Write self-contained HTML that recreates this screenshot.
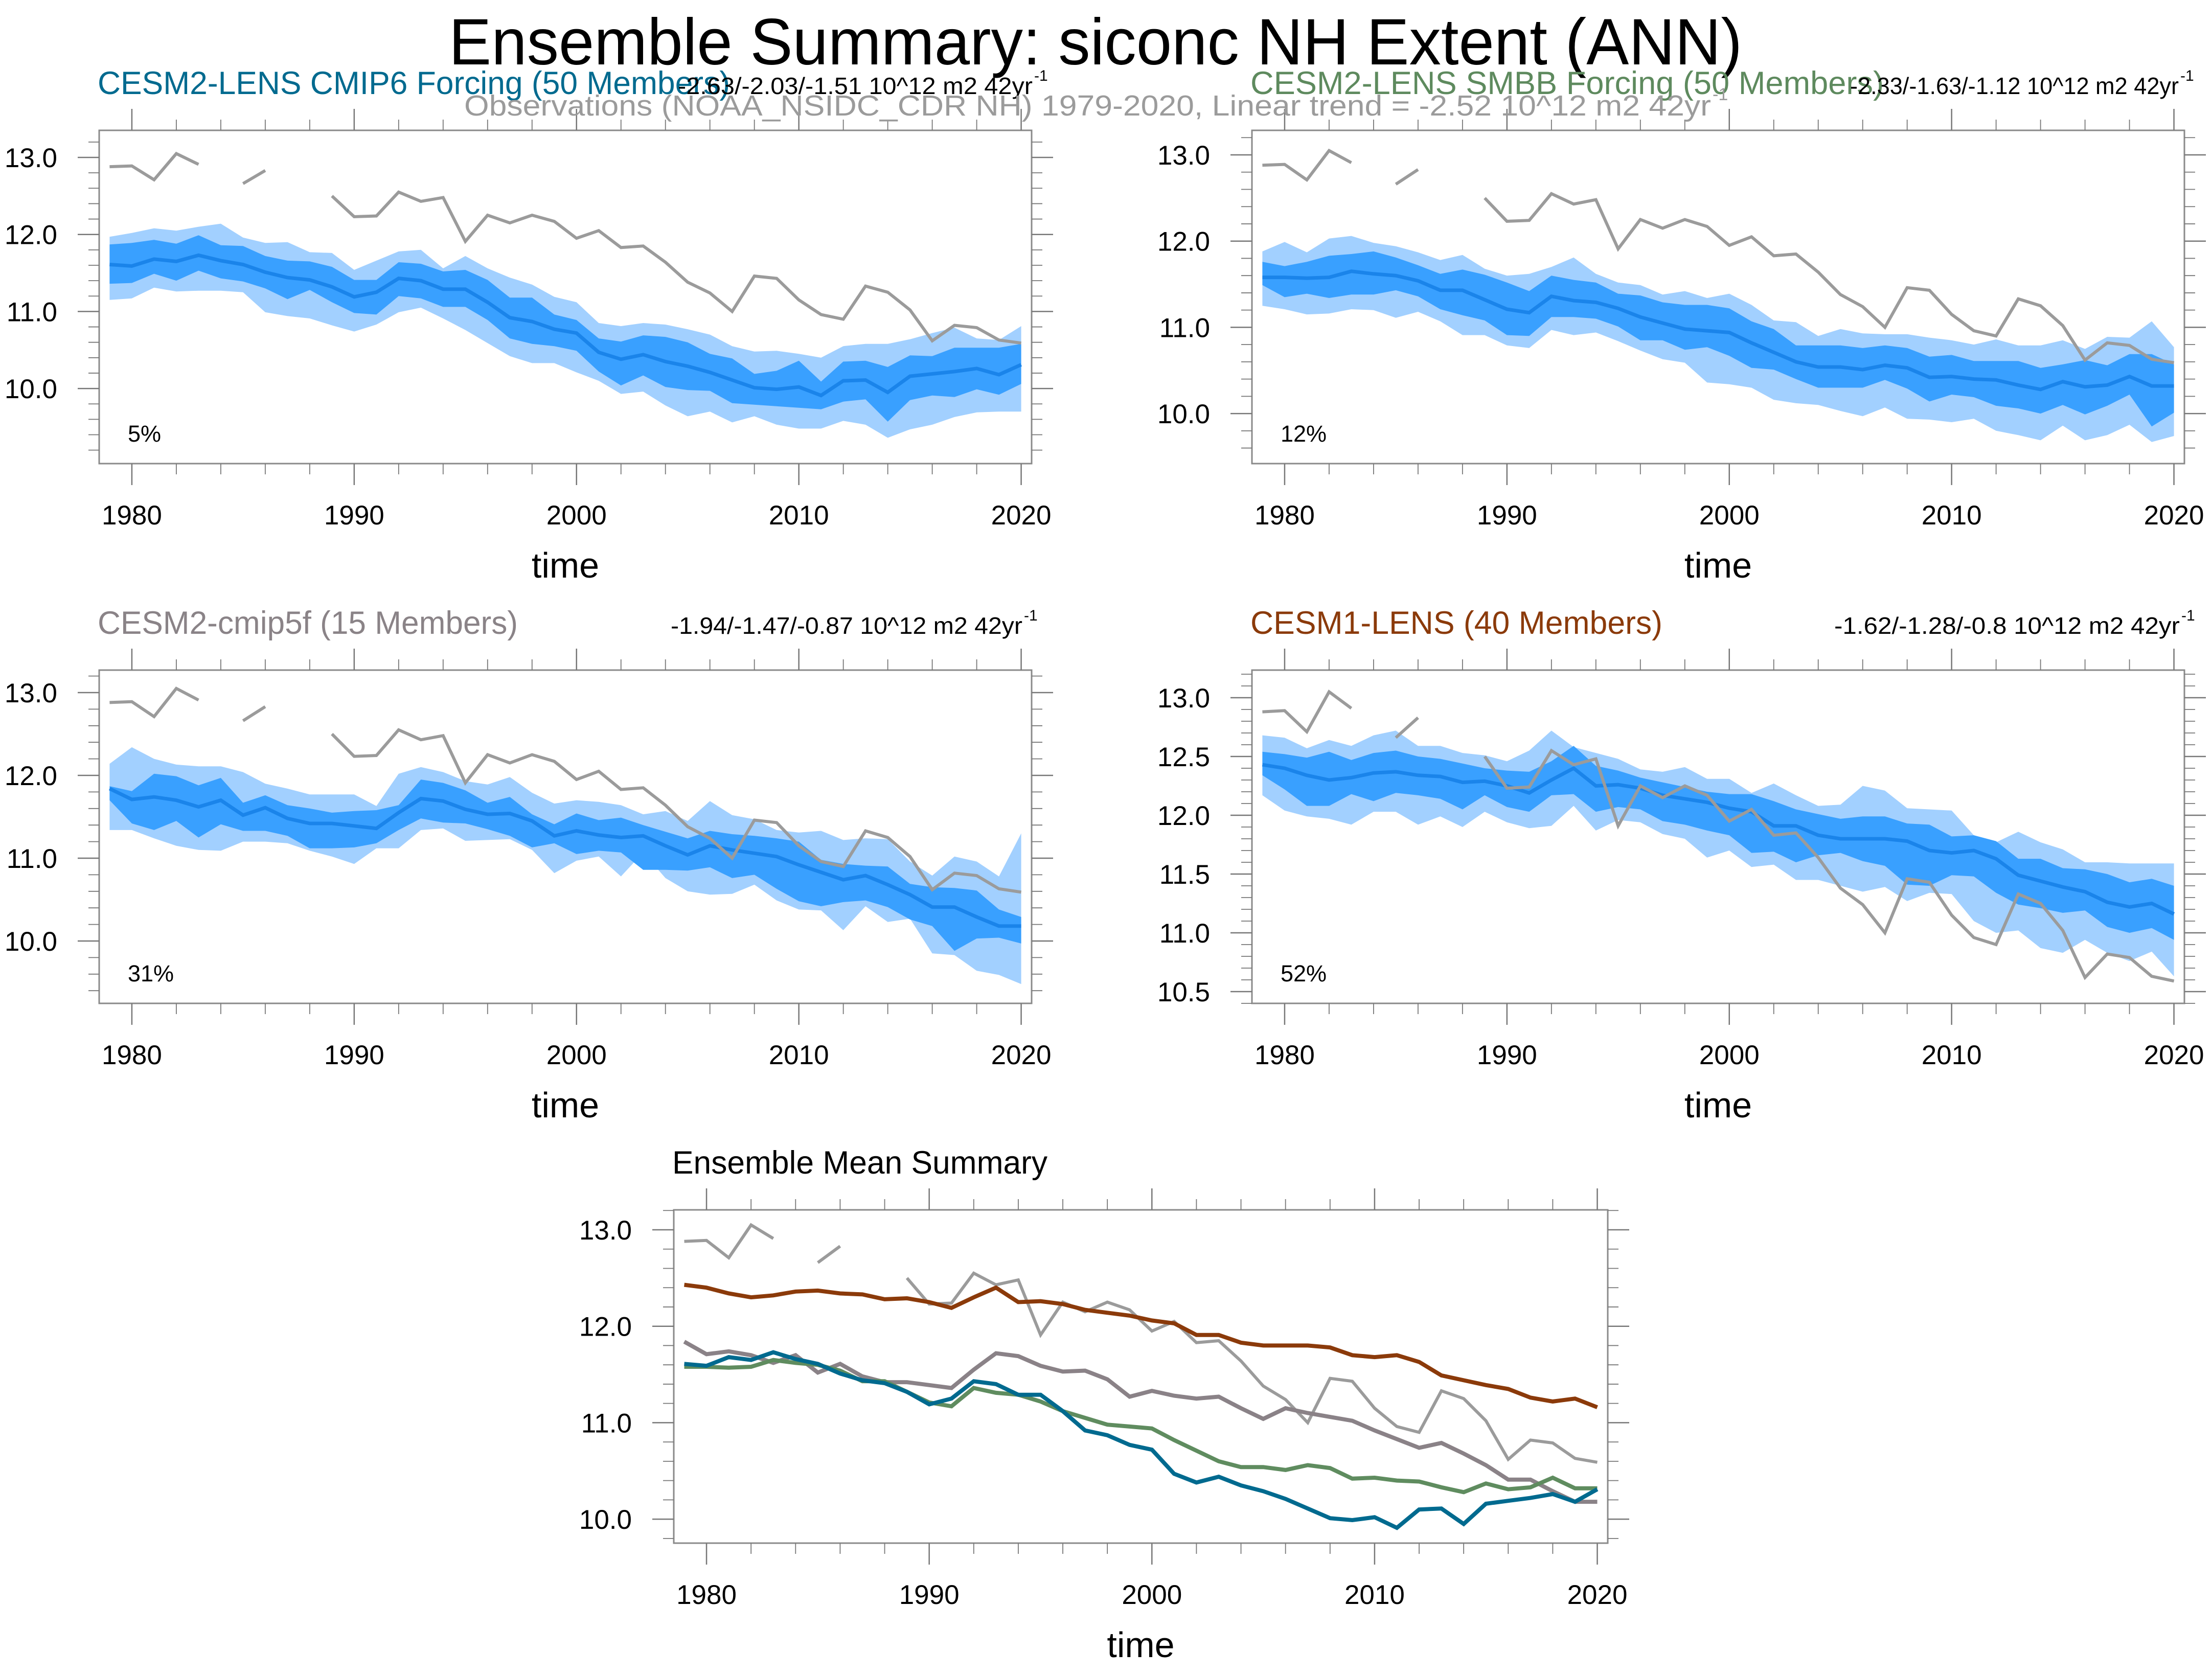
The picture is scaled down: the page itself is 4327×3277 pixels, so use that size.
<!DOCTYPE html>
<html><head><meta charset="utf-8"><style>
html,body{margin:0;padding:0;background:#fff}
svg{display:block;font-family:"Liberation Sans",sans-serif}
</style></head><body>
<svg id="fig" width="4327" height="3277" viewBox="0 0 4327 3277" xmlns="http://www.w3.org/2000/svg">
<rect width="4327" height="3277" fill="#fff"/>
<text x="878" y="126" font-size="128" textLength="2530" lengthAdjust="spacingAndGlyphs">Ensemble Summary: siconc NH Extent (ANN)</text>
<g id="plots"></g>
</svg>
<script>
const years=[];for(let y=1979;y<=2020;y++)years.push(y);
const obs=[12.88,12.89,12.71,13.05,12.91,null,12.66,12.83,null,null,12.50,12.23,12.24,12.55,12.43,12.48,11.91,12.25,12.15,12.25,12.17,11.95,12.05,11.83,11.85,11.64,11.38,11.24,11.00,11.46,11.43,11.15,10.96,10.90,11.33,11.25,11.02,10.62,10.82,10.79,10.63,10.59];
// Panel 1: CESM2-LENS CMIP6
const p1Mean=[11.61,11.59,11.68,11.65,11.73,11.66,11.61,11.51,11.44,11.41,11.32,11.19,11.25,11.43,11.40,11.29,11.29,11.12,10.92,10.87,10.77,10.72,10.47,10.38,10.44,10.35,10.29,10.21,10.11,10.01,9.99,10.02,9.91,10.10,10.11,9.95,10.16,10.19,10.22,10.26,10.18,10.31];
const p1Q75=[11.87,11.89,11.93,11.88,11.99,11.86,11.85,11.72,11.66,11.65,11.58,11.41,11.41,11.64,11.62,11.52,11.54,11.41,11.18,11.18,10.96,10.89,10.65,10.61,10.69,10.67,10.60,10.45,10.39,10.19,10.23,10.36,10.09,10.35,10.36,10.28,10.43,10.42,10.53,10.53,10.53,10.58];
const p1Q25=[11.36,11.37,11.49,11.40,11.53,11.43,11.39,11.30,11.16,11.28,11.12,10.98,10.96,11.20,11.17,11.06,11.06,10.89,10.65,10.58,10.55,10.49,10.22,10.04,10.17,10.02,9.98,9.97,9.81,9.79,9.77,9.75,9.73,9.83,9.86,9.57,9.85,9.91,9.89,9.99,9.92,10.06];
const p1Max=[11.97,12.02,12.08,12.05,12.10,12.14,11.96,11.89,11.90,11.77,11.76,11.54,11.66,11.78,11.80,11.56,11.72,11.56,11.44,11.35,11.19,11.12,10.85,10.81,10.85,10.83,10.77,10.70,10.55,10.48,10.49,10.45,10.40,10.55,10.58,10.58,10.64,10.72,10.79,10.65,10.63,10.81];
const p1Min=[11.15,11.17,11.31,11.26,11.27,11.27,11.25,10.99,10.94,10.91,10.82,10.74,10.83,10.99,11.05,10.91,10.76,10.59,10.42,10.33,10.33,10.21,10.10,9.93,9.96,9.78,9.64,9.70,9.56,9.64,9.53,9.48,9.48,9.58,9.53,9.36,9.47,9.53,9.63,9.69,9.70,9.70];
// Panel 2: CESM2-LENS SMBB
const p2Mean=[11.58,11.58,11.57,11.58,11.65,11.62,11.60,11.54,11.43,11.43,11.32,11.21,11.17,11.36,11.31,11.29,11.22,11.12,11.05,10.98,10.96,10.94,10.82,10.71,10.60,10.54,10.54,10.51,10.56,10.53,10.42,10.43,10.40,10.39,10.33,10.28,10.37,10.31,10.33,10.43,10.32,10.32];
const p2Q75=[11.76,11.71,11.76,11.83,11.85,11.88,11.81,11.72,11.62,11.67,11.61,11.52,11.42,11.60,11.55,11.52,11.39,11.37,11.29,11.26,11.26,11.22,11.07,10.98,10.79,10.79,10.79,10.76,10.79,10.76,10.66,10.68,10.61,10.61,10.61,10.53,10.57,10.62,10.56,10.69,10.69,10.57];
const p2Q25=[11.49,11.35,11.39,11.34,11.38,11.38,11.43,11.36,11.21,11.14,11.08,10.91,10.90,11.12,11.12,11.10,11.01,10.85,10.85,10.74,10.77,10.67,10.53,10.51,10.40,10.30,10.30,10.30,10.39,10.29,10.14,10.22,10.19,10.09,10.06,10.00,10.10,9.99,10.09,10.22,9.85,10.01];
const p2Max=[11.88,11.99,11.87,12.03,12.06,11.98,11.94,11.87,11.78,11.84,11.68,11.60,11.62,11.70,11.81,11.62,11.52,11.49,11.38,11.42,11.34,11.39,11.26,11.08,11.06,10.90,10.98,10.93,10.92,10.92,10.88,10.85,10.80,10.86,10.79,10.79,10.85,10.75,10.89,10.88,11.07,10.77];
const p2Min=[11.25,11.21,11.15,11.16,11.21,11.20,11.11,11.18,11.07,10.91,10.91,10.79,10.76,10.97,10.91,10.94,10.84,10.73,10.63,10.59,10.36,10.34,10.30,10.16,10.12,10.10,10.03,9.97,10.07,9.94,9.93,9.90,9.94,9.80,9.75,9.69,9.86,9.69,9.75,9.87,9.67,9.74];
// Panel 3: CESM2-cmip5f
const p3Mean=[11.84,11.71,11.74,11.70,11.62,11.70,11.52,11.61,11.48,11.42,11.42,11.39,11.36,11.55,11.72,11.69,11.59,11.53,11.54,11.45,11.27,11.33,11.28,11.25,11.27,11.15,11.04,11.15,11.10,11.06,11.02,10.92,10.83,10.74,10.79,10.68,10.56,10.41,10.41,10.29,10.18,10.18];
const p3Q75=[11.87,11.81,12.02,11.99,11.88,11.97,11.67,11.76,11.64,11.60,11.55,11.57,11.58,11.64,11.95,11.91,11.82,11.67,11.74,11.53,11.41,11.54,11.46,11.49,11.40,11.32,11.24,11.33,11.29,11.27,11.24,11.20,10.98,10.93,10.91,10.90,10.69,10.65,10.64,10.61,10.38,10.29];
const p3Q25=[11.70,11.42,11.34,11.45,11.25,11.41,11.33,11.33,11.27,11.12,11.12,11.13,11.18,11.34,11.48,11.43,11.42,11.35,11.27,11.13,11.18,11.05,11.09,11.07,10.86,10.86,10.85,10.89,10.76,10.80,10.63,10.48,10.42,10.47,10.49,10.41,10.26,10.18,9.88,10.03,10.04,9.97];
const p3Max=[12.14,12.34,12.20,12.13,12.11,12.11,12.04,11.90,11.84,11.77,11.77,11.77,11.63,12.02,12.10,12.04,11.93,11.89,11.98,11.79,11.66,11.70,11.68,11.64,11.53,11.57,11.45,11.69,11.52,11.47,11.34,11.31,11.33,11.22,11.24,11.23,10.96,10.79,11.02,10.96,10.78,11.30];
const p3Min=[11.34,11.34,11.24,11.15,11.10,11.09,11.20,11.20,11.18,11.09,11.02,10.93,11.12,11.12,11.34,11.36,11.21,11.22,11.23,11.10,10.82,10.97,11.02,10.78,11.07,10.76,10.60,10.56,10.57,10.68,10.49,10.38,10.37,10.13,10.42,10.23,10.27,9.85,9.83,9.64,9.59,9.48];
// Panel 4: CESM1-LENS
const p4Mean=[12.43,12.40,12.34,12.30,12.32,12.36,12.37,12.34,12.33,12.28,12.29,12.25,12.19,12.30,12.40,12.25,12.26,12.23,12.17,12.14,12.11,12.06,12.03,11.91,11.91,11.83,11.80,11.80,11.80,11.78,11.70,11.68,11.70,11.63,11.49,11.44,11.39,11.35,11.26,11.22,11.25,11.16];
const p4Q75=[12.54,12.52,12.49,12.54,12.47,12.53,12.55,12.50,12.48,12.44,12.40,12.38,12.37,12.46,12.59,12.42,12.38,12.32,12.28,12.24,12.20,12.18,12.18,12.12,12.05,12.01,11.97,11.99,11.99,11.93,11.92,11.82,11.83,11.78,11.63,11.63,11.55,11.54,11.50,11.43,11.46,11.40];
const p4Q25=[12.34,12.22,12.08,12.08,12.18,12.12,12.19,12.17,12.14,12.05,12.17,12.07,12.03,12.17,12.18,12.03,12.07,12.05,11.95,11.92,11.87,11.83,11.68,11.69,11.60,11.66,11.68,11.61,11.57,11.41,11.40,11.49,11.48,11.34,11.24,11.21,11.17,11.19,11.05,11.00,11.04,10.94];
const p4Max=[12.68,12.66,12.57,12.64,12.59,12.68,12.72,12.59,12.59,12.53,12.51,12.46,12.55,12.72,12.58,12.53,12.48,12.39,12.37,12.41,12.31,12.31,12.19,12.27,12.17,12.08,12.09,12.25,12.21,12.06,12.05,12.04,11.83,11.77,11.86,11.77,11.71,11.60,11.60,11.59,11.59,11.59];
const p4Min=[12.17,12.04,11.99,11.97,11.92,12.03,12.03,11.92,11.99,11.90,12.03,11.94,11.89,11.91,12.08,11.87,11.96,11.94,11.84,11.80,11.64,11.70,11.56,11.58,11.45,11.45,11.40,11.35,11.39,11.27,11.34,11.33,11.10,11.00,11.02,10.87,10.83,10.94,10.83,10.76,10.84,10.63];
const yLabels123=["13.0","12.0","11.0","10.0"];
const yTicks123=[13,12,11,10];
const yLabels4=["13.0","12.5","12.0","11.5","11.0","10.5"];
const yTicks4=[13,12.5,12,11.5,11,10.5];
const xTicks=[1980,1990,2000,2010,2020];
const xLabels=["1980","1990","2000","2010","2020"];

const NS="http://www.w3.org/2000/svg";
const root=document.getElementById('plots');
function el(tag,attrs,parent){const e=document.createElementNS(NS,tag);for(const k in attrs)e.setAttribute(k,attrs[k]);(parent||root).appendChild(e);return e;}

function panel(cfg){
  const g=el('g',{});
  
  
  const X0=cfg.x0,X1=cfg.x1,Y0=cfg.y0,Y1=cfg.y1;
  const xs=v=>X0+(v-1978.53)/(2020.47-1978.53)*(X1-X0);
  const ys=v=>cfg.yRef+(cfg.vRef-v)*cfg.ppu;
  const vTop=cfg.vRef+(cfg.yRef-Y0)/cfg.ppu, vBot=cfg.vRef-(Y1-cfg.yRef)/cfg.ppu;
  const band=(hi,lo,fill,nm)=>{
    let d='M'+years.map((y,i)=>xs(y).toFixed(1)+','+ys(hi[i]).toFixed(1)).join('L');
    for(let i=years.length-1;i>=0;i--)d+='L'+xs(years[i]).toFixed(1)+','+ys(lo[i]).toFixed(1);
    const p=el('path',{d:d+'Z',fill:fill},g);
    
    
  };
  const line=(vals,col,w,nm)=>{
    let d='',pen=false;
    vals.forEach((v,i)=>{if(v==null){pen=false;return;}d+=(pen?'L':'M')+xs(years[i]).toFixed(1)+','+ys(v).toFixed(1);pen=true;});
    const p=el('path',{d:d,fill:'none',stroke:col,'stroke-width':w,'stroke-linejoin':'miter'},g);
    
    
  };
  const clipId='c'+cfg.name;
  const cp=el('clipPath',{id:clipId},g);el('rect',{x:X0,y:Y0,width:X1-X0,height:Y1-Y0},cp);
  const inner=el('g',{'clip-path':'url(#'+clipId+')'},g);
  const gg=g; 
  if(cfg.bands){
    band(cfg.max,cfg.min,'#a2d0ff','band-outer');
    band(cfg.q75,cfg.q25,'#39a0ff','band-inner');
    line(cfg.mean,'#1a84ea',7,'ensemble-mean-line');
    line(obs,'#9b9b9b',6,'observations-line');
  } else {
    cfg.lines.forEach(L=>line(L.v,L.c,L.w,L.n));
  }
  // frame
  const fr=el('rect',{x:X0,y:Y0,width:X1-X0,height:Y1-Y0,fill:'none',stroke:'#8a8a8a','stroke-width':3},g);
  
  
  // x ticks
  for(let y=1980;y<=2020;y+=2){
    const big=(y%10===0), L=big?42:21, x=xs(y);
    el('line',{x1:x,x2:x,y1:Y0,y2:Y0-L,stroke:'#777','stroke-width':big?2.5:1.8},g);
    el('line',{x1:x,x2:x,y1:Y1,y2:Y1+L,stroke:'#777','stroke-width':big?2.5:1.8},g);
  }
  xTicks.forEach((t,i)=>{
    const tx=el('text',{x:xs(t),y:Y1+119,'font-size':53,'text-anchor':'middle'},g);
    tx.textContent=xLabels[i];
    
    
  });
  const xt=el('text',{x:(X0+X1)/2,y:Y1+223,'font-size':70,'text-anchor':'middle'},g);
  xt.textContent='time';
  
  
  // y ticks
  const st=cfg.minor;
  for(let v=Math.ceil(vBot/st-1e-6)*st;v<=vTop+1e-6;v+=st){
    const vv=Math.round(v*100)/100;
    const big=cfg.yTicks.some(t=>Math.abs(t-vv)<1e-6), L=big?42:21, y=ys(vv);
    el('line',{x1:X0,x2:X0-L,y1:y,y2:y,stroke:'#777','stroke-width':big?2.5:1.8},g);
    el('line',{x1:X1,x2:X1+L,y1:y,y2:y,stroke:'#777','stroke-width':big?2.5:1.8},g);
  }
  cfg.yTicks.forEach((t,i)=>{
    const tx=el('text',{x:X0-82,y:ys(t)+19,'font-size':53,'text-anchor':'end'},g);
    tx.textContent=cfg.yLabels[i];
    
    
  });
  if(cfg.pct){
    const tx=el('text',{x:X0+56,y:Y1-43,'font-size':45},g);
    tx.textContent=cfg.pct;
    
    
  }
  const ti=el('text',{x:X0-3,y:Y0-71,'font-size':63,fill:cfg.tcol,textLength:cfg.tlen,lengthAdjust:'spacingAndGlyphs'},g);
  ti.textContent=cfg.title;
  
  
  if(cfg.trend){
    const tr=el('text',{x:cfg.tx,y:Y0-71,'font-size':46,textLength:cfg.tw,lengthAdjust:'spacingAndGlyphs'},g);
    tr.textContent=cfg.trend;
    
    
    const sp=el('text',{x:cfg.tx+cfg.tw+3,y:Y0-97,'font-size':30},g);
    sp.textContent='-1';
    
    
  }
}

panel({name:'panel-cesm2-cmip6',x0:194,x1:2018,y0:255,y1:907,yRef:308,vRef:13,ppu:150.7,minor:0.2,yTicks:yTicks123,yLabels:yLabels123,
  bands:true,mean:p1Mean,q75:p1Q75,q25:p1Q25,max:p1Max,min:p1Min,pct:'5%',
  title:'CESM2-LENS CMIP6 Forcing (50 Members)',tcol:'#006a8f',tlen:1237,trend:'-2.63/-2.03/-1.51 10^12 m2 42yr',tx:1326,tw:694});
panel({name:'panel-cesm2-smbb',x0:2449,x1:4273,y0:255,y1:907,yRef:303,vRef:13,ppu:168.7,minor:0.2,yTicks:yTicks123,yLabels:yLabels123,
  bands:true,mean:p2Mean,q75:p2Q75,q25:p2Q25,max:p2Max,min:p2Min,pct:'12%',
  title:'CESM2-LENS SMBB Forcing (50 Members)',tcol:'#5e8a5e',tlen:1239,trend:'-2.33/-1.63/-1.12 10^12 m2 42yr',tx:3619,tw:643});
panel({name:'panel-cesm2-cmip5f',x0:194,x1:2018,y0:1311,y1:1963,yRef:1355,vRef:13,ppu:162,minor:0.2,yTicks:yTicks123,yLabels:yLabels123,
  bands:true,mean:p3Mean,q75:p3Q75,q25:p3Q25,max:p3Max,min:p3Min,pct:'31%',
  title:'CESM2-cmip5f (15 Members)',tcol:'#8a8387',tlen:822,trend:'-1.94/-1.47/-0.87 10^12 m2 42yr',tx:1312,tw:688});
panel({name:'panel-cesm1-lens',x0:2449,x1:4273,y0:1311,y1:1963,yRef:1365,vRef:13,ppu:230,minor:0.1,yTicks:yTicks4,yLabels:yLabels4,
  bands:true,mean:p4Mean,q75:p4Q75,q25:p4Q25,max:p4Max,min:p4Min,pct:'52%',
  title:'CESM1-LENS (40 Members)',tcol:'#8b3a0a',tlen:806,trend:'-1.62/-1.28/-0.8 10^12 m2 42yr',tx:3588,tw:676});
panel({name:'panel-ensemble-mean-summary',x0:1318,x1:3145,y0:2367,y1:3019,yRef:2406,vRef:13,ppu:188.7,minor:0.2,yTicks:yTicks123,yLabels:yLabels123,
  bands:false,lines:[
    {v:obs,c:'#9b9b9b',w:6,n:'observations-line'},
    {v:p4Mean,c:'#8b3a0a',w:8,n:'cesm1-lens-mean-line'},
    {v:p3Mean,c:'#8a8287',w:8,n:'cesm2-cmip5f-mean-line'},
    {v:p2Mean,c:'#5f8c5f',w:8,n:'cesm2-smbb-mean-line'},
    {v:p1Mean,c:'#006a8f',w:8,n:'cesm2-cmip6-mean-line'}],
  title:'Ensemble Mean Summary',tcol:'#000',tlen:734});
// observations subtitle
const ob=el('text',{x:908,y:226,'font-size':57,fill:'#9b9b9b',textLength:2439,lengthAdjust:'spacingAndGlyphs'});
ob.textContent='Observations (NOAA_NSIDC_CDR NH) 1979-2020, Linear trend = -2.52 10^12 m2 42yr';


const os=el('text',{x:3350,y:196,'font-size':34,fill:'#9b9b9b'});
os.textContent='-1';


</script>
</body></html>
